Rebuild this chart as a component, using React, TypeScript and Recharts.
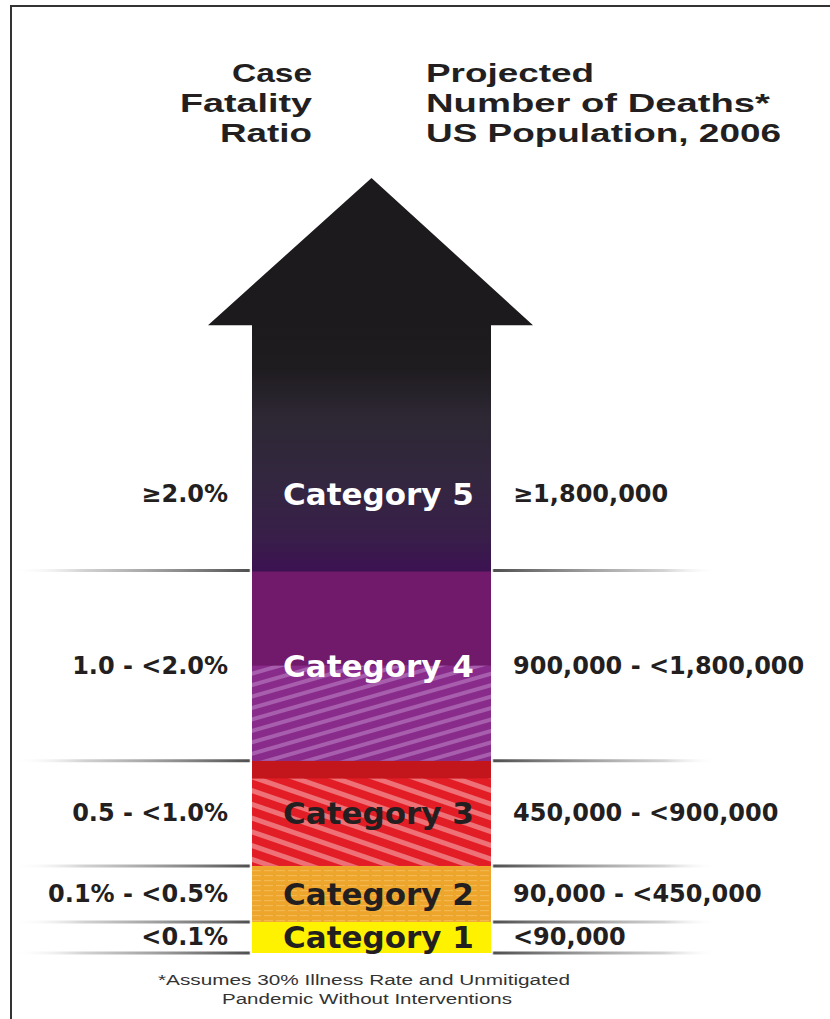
import { BarChart, Bar, XAxis, YAxis, ReferenceLine, LabelList } from "recharts";

const categories = ["Category 1", "Category 2", "Category 3", "Category 4", "Category 5"];
const fatalityRatios = ["<0.1%", "0.1% - <0.5%", "0.5 - <1.0%", "1.0 - <2.0%", "≥2.0%"];
const projectedDeaths = [
  "<90,000",
  "90,000 - <450,000",
  "450,000 - <900,000",
  "900,000 - <1,800,000",
  "≥1,800,000",
];
// visual size of each band on the arrow, bottom to top
const bandSizes = [31, 56, 105, 190, 152];
const arrowShaft = 93;
const arrowHead = 147;

const leftTitle = ["Case", "Fatality", "Ratio"];
const rightTitle = ["Projected", "Number of Deaths*", "US Population, 2006"];
const footnote = ["*Assumes 30% Illness Rate and Unmitigated", "Pandemic Without Interventions"];

const bandKeys = categories.map((_, i) => `band${i + 1}`);
const row: Record<string, any> = { name: "severity", shaft: arrowShaft, head: arrowHead };
bandKeys.forEach((k, i) => (row[k] = bandSizes[i]));
const data = [row];
const total = bandSizes.reduce((a, b) => a + b, 0) + arrowShaft + arrowHead;
const boundaries = bandSizes
  .slice(0, 4)
  .reduce((acc: number[], v) => [...acc, acc[acc.length - 1] + v], [0]);

const W = 830;
const H = 1019;

const sideFont = {
  fontFamily: "DejaVu Sans",
  fontWeight: 700,
  fontSize: 24,
  fill: "#231f20",
};
const catFont = {
  fontFamily: "DejaVu Sans",
  fontWeight: 700,
  fontSize: 31,
};
const titleFont = { fontFamily: "Liberation Sans", fontWeight: 700, fontSize: 26, fill: "#231f20" };

function BandShape(props: any) {
  const { x, y, width, height, band } = props;
  if (band === 0) return <rect x={x} y={y} width={width} height={height} fill="#fff200" />;
  if (band === 1) return <rect x={x} y={y} width={width} height={height} fill="url(#dash2)" />;
  if (band === 2)
    return (
      <g>
        <rect x={x} y={y} width={width} height={height} fill="#e31d25" />
        <rect x={x} y={y} width={width} height={height * 0.17} fill="#c3151c" />
        <rect x={x} y={y + height * 0.17} width={width} height={height * 0.83} fill="url(#hatch3)" />
      </g>
    );
  if (band === 3)
    return (
      <g>
        <rect x={x} y={y} width={width} height={height} fill="#711a6b" />
        <rect x={x} y={y + height * 0.5} width={width} height={height * 0.5} fill="url(#hatch4)" />
      </g>
    );
  // category 5 and the arrow shaft share one vertical gradient; overlap 1px to hide seams
  return <rect x={x} y={y} width={width} height={height + 1} fill="url(#shaftGrad)" />;
}

function HeadShape(props: any) {
  const { x, y, width, height } = props;
  const base = y + height + 1;
  const pts = `${x - 44},${base - 1} ${x + width / 2},${y} ${x + width + 42},${base - 1} ${x + width},${base - 1} ${x + width},${base} ${x},${base} ${x},${base - 1}`;
  return <polygon points={pts} fill="#1d1a1d" />;
}

const bandLabel = (i: number) => (p: any) => {
  const vb = p.viewBox ?? p;
  const x = p.x ?? vb.x;
  const y = p.y ?? vb.y;
  const width = p.width ?? vb.width;
  const height = p.height ?? vb.height;
  const cy = y + height / 2;
  return (
    <g>
      <text x={x - 24} y={cy} textAnchor="end" dominantBaseline="central" style={sideFont}>
        {fatalityRatios[i]}
      </text>
      <text
        x={x + width / 2 + 7}
        y={cy}
        textAnchor="middle"
        dominantBaseline="central"
        style={{ ...catFont, fill: i >= 3 ? "#ffffff" : "#231f20" }}
      >
        {categories[i]}
      </text>
      <text x={x + width + 22} y={cy} textAnchor="start" dominantBaseline="central" style={sideFont}>
        {projectedDeaths[i]}
      </text>
    </g>
  );
};

export default function App() {
  return (
    <div style={{ position: "absolute", left: 0, top: 0, width: W, height: H, background: "#fff" }}>
      <BarChart
        width={W}
        height={H}
        data={data}
        margin={{ top: 178, right: 87, left: 0, bottom: 66 }}
      >
        <defs>
          <linearGradient id="sepGrad" gradientUnits="userSpaceOnUse" x1={0} y1={0} x2={W} y2={0}>
            <stop offset={0.014} stopColor="#ffffff" stopOpacity={0} />
            <stop offset={0.1} stopColor="#c8c8c8" stopOpacity={0.8} />
            <stop offset={0.3} stopColor="#505050" stopOpacity={1} />
            <stop offset={0.302} stopColor="#505050" stopOpacity={0} />
            <stop offset={0.593} stopColor="#505050" stopOpacity={0} />
            <stop offset={0.595} stopColor="#505050" stopOpacity={1} />
            <stop offset={0.8} stopColor="#c8c8c8" stopOpacity={0.8} />
            <stop offset={0.865} stopColor="#ffffff" stopOpacity={0} />
          </linearGradient>
          <linearGradient id="shaftGrad" gradientUnits="userSpaceOnUse" x1={0} y1={325} x2={0} y2={570}>
            <stop offset={0} stopColor="#1d1a1d" />
            <stop offset={0.18} stopColor="#1f1c20" />
            <stop offset={0.38} stopColor="#2d2834" />
            <stop offset={0.62} stopColor="#33273f" />
            <stop offset={0.86} stopColor="#381f49" />
            <stop offset={1} stopColor="#3c1251" />
          </linearGradient>
          <pattern id="hatch4" width={12} height={11} patternUnits="userSpaceOnUse" patternTransform="rotate(-16)">
            <rect width={12} height={11} fill="#892b8b" />
            <rect width={12} height={4} fill="#a65ead" />
          </pattern>
          <pattern id="hatch3" width={12} height={13} patternUnits="userSpaceOnUse" patternTransform="rotate(19)">
            <rect width={12} height={13} fill="#e31d25" />
            <rect width={12} height={5} fill="#ee7177" />
          </pattern>
          <pattern id="dash2" width={12} height={5} patternUnits="userSpaceOnUse">
            <rect width={12} height={5} fill="#eea52c" />
            <rect width={9} height={1.2} fill="#f3b850" />
          </pattern>
        </defs>
        <XAxis dataKey="name" hide />
        <YAxis type="number" domain={[0, total]} hide />
        {bandKeys.map((k, i) => (
          <Bar
            key={k}
            dataKey={k}
            stackId="arrow"
            barSize={239}
            isAnimationActive={false}
            shape={(p: any) => <BandShape {...p} band={i} />}
          >
            <LabelList dataKey={k} content={bandLabel(i)} />
          </Bar>
        ))}
        <Bar
          dataKey="shaft"
          stackId="arrow"
          barSize={239}
          isAnimationActive={false}
          shape={(p: any) => <BandShape {...p} band={5} />}
        />
        <Bar
          dataKey="head"
          stackId="arrow"
          barSize={239}
          isAnimationActive={false}
          shape={(p: any) => <HeadShape {...p} />}
        />
        {boundaries.map((b) => (
          <ReferenceLine key={b} y={b} stroke="url(#sepGrad)" strokeWidth={3} />
        ))}
      </BarChart>
      <svg
        width={W}
        height={H}
        style={{ position: "absolute", left: 0, top: 0, pointerEvents: "none" }}
      >
        <line x1={10} y1={6} x2={W} y2={6} stroke="#333" strokeWidth={2} />
        <line x1={11} y1={6} x2={11} y2={H} stroke="#333" strokeWidth={2} />
        {leftTitle.map((t, i) => (
          <text
            key={t}
            x={312}
            y={82 + i * 30}
            textAnchor="end"
            textLength={[80, 132, 92][i]}
            lengthAdjust="spacingAndGlyphs"
            style={titleFont}
          >
            {t}
          </text>
        ))}
        {rightTitle.map((t, i) => (
          <text
            key={t}
            x={426}
            y={82 + i * 30}
            textLength={[168, 344, 355][i]}
            lengthAdjust="spacingAndGlyphs"
            style={titleFont}
          >
            {t}
          </text>
        ))}
        {footnote.map((t, i) => (
          <text
            key={t}
            x={[158, 222][i]}
            y={985 + i * 19}
            textLength={[412, 290][i]}
            lengthAdjust="spacingAndGlyphs"
            style={{ fontFamily: "Liberation Sans", fontSize: 14, fill: "#333" }}
          >
            {t}
          </text>
        ))}
      </svg>
    </div>
  );
}
